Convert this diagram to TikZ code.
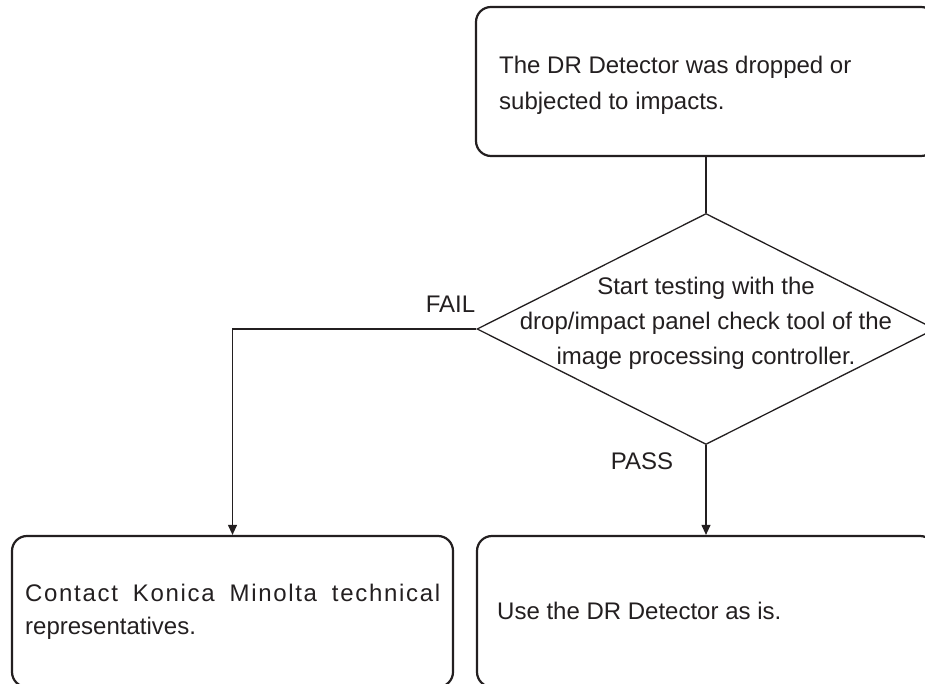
\documentclass[tikz,border=0pt]{standalone}
\usepackage{fontspec}
\setmainfont{Liberation Sans}
\usetikzlibrary{shapes.geometric,arrows.meta}
\definecolor{ink}{RGB}{35,31,32}
\begin{document}
\begin{tikzpicture}[x=1pt,y=1pt,
  box/.style={draw=ink,line width=2.2pt,rounded corners=15pt,inner sep=0pt},
  decision/.style={draw=ink,line width=1.3pt,diamond,inner sep=0pt,minimum width=458pt,minimum height=231pt},
  txt/.style={text=ink,inner sep=0pt,font=\fontsize{24}{36}\selectfont},
  link/.style={draw=ink,line width=1.1pt},
  arrowlink/.style={link,-{Triangle[length=10pt,width=9pt]}}]
\useasboundingbox (0,0) rectangle (925,684);
\clip (0,0) rectangle (925,684);
% shapes
\node[box,minimum width=460pt,minimum height=149pt] (start) at (706,602.5) {};
\node[decision] (test) at (706,355) {};
\node[box,minimum width=441pt,minimum height=151pt] (contact) at (232.5,72.5) {};
\node[box,minimum width=458pt,minimum height=151pt] (use) at (706,72.5) {};
% texts (base anchor = baseline of the last line)
\node[txt,anchor=base west,align=left] (starttext) at (499,574)
  {The DR Detector was dropped or\\[0pt]subjected to impacts.};
\node[txt,anchor=base,align=center] (testtext) at (706,319)
  {Start testing with the\\[-1pt]drop/impact panel check tool of the\\[-1pt]image processing controller.};
\node[txt,anchor=base west,align=left] (contacttext) at (25,49)
  {\makebox[415pt][s]{\addfontfeature{LetterSpace=7}Contact Konica Minolta technical}\\[-3pt]representatives.};
\node[txt,anchor=base west] (usetext) at (497,64) {Use the DR Detector as is.};
\node[txt,anchor=base] (fail) at (450.5,371) {FAIL};
\node[txt,anchor=base] (pass) at (642,214) {PASS};
% connectors
\draw[link] (start.south) -- (test.north);
\draw[arrowlink] (test.west) -| (contact.north);
\draw[arrowlink] (test.south) -- (use.north);
\end{tikzpicture}
\end{document}
